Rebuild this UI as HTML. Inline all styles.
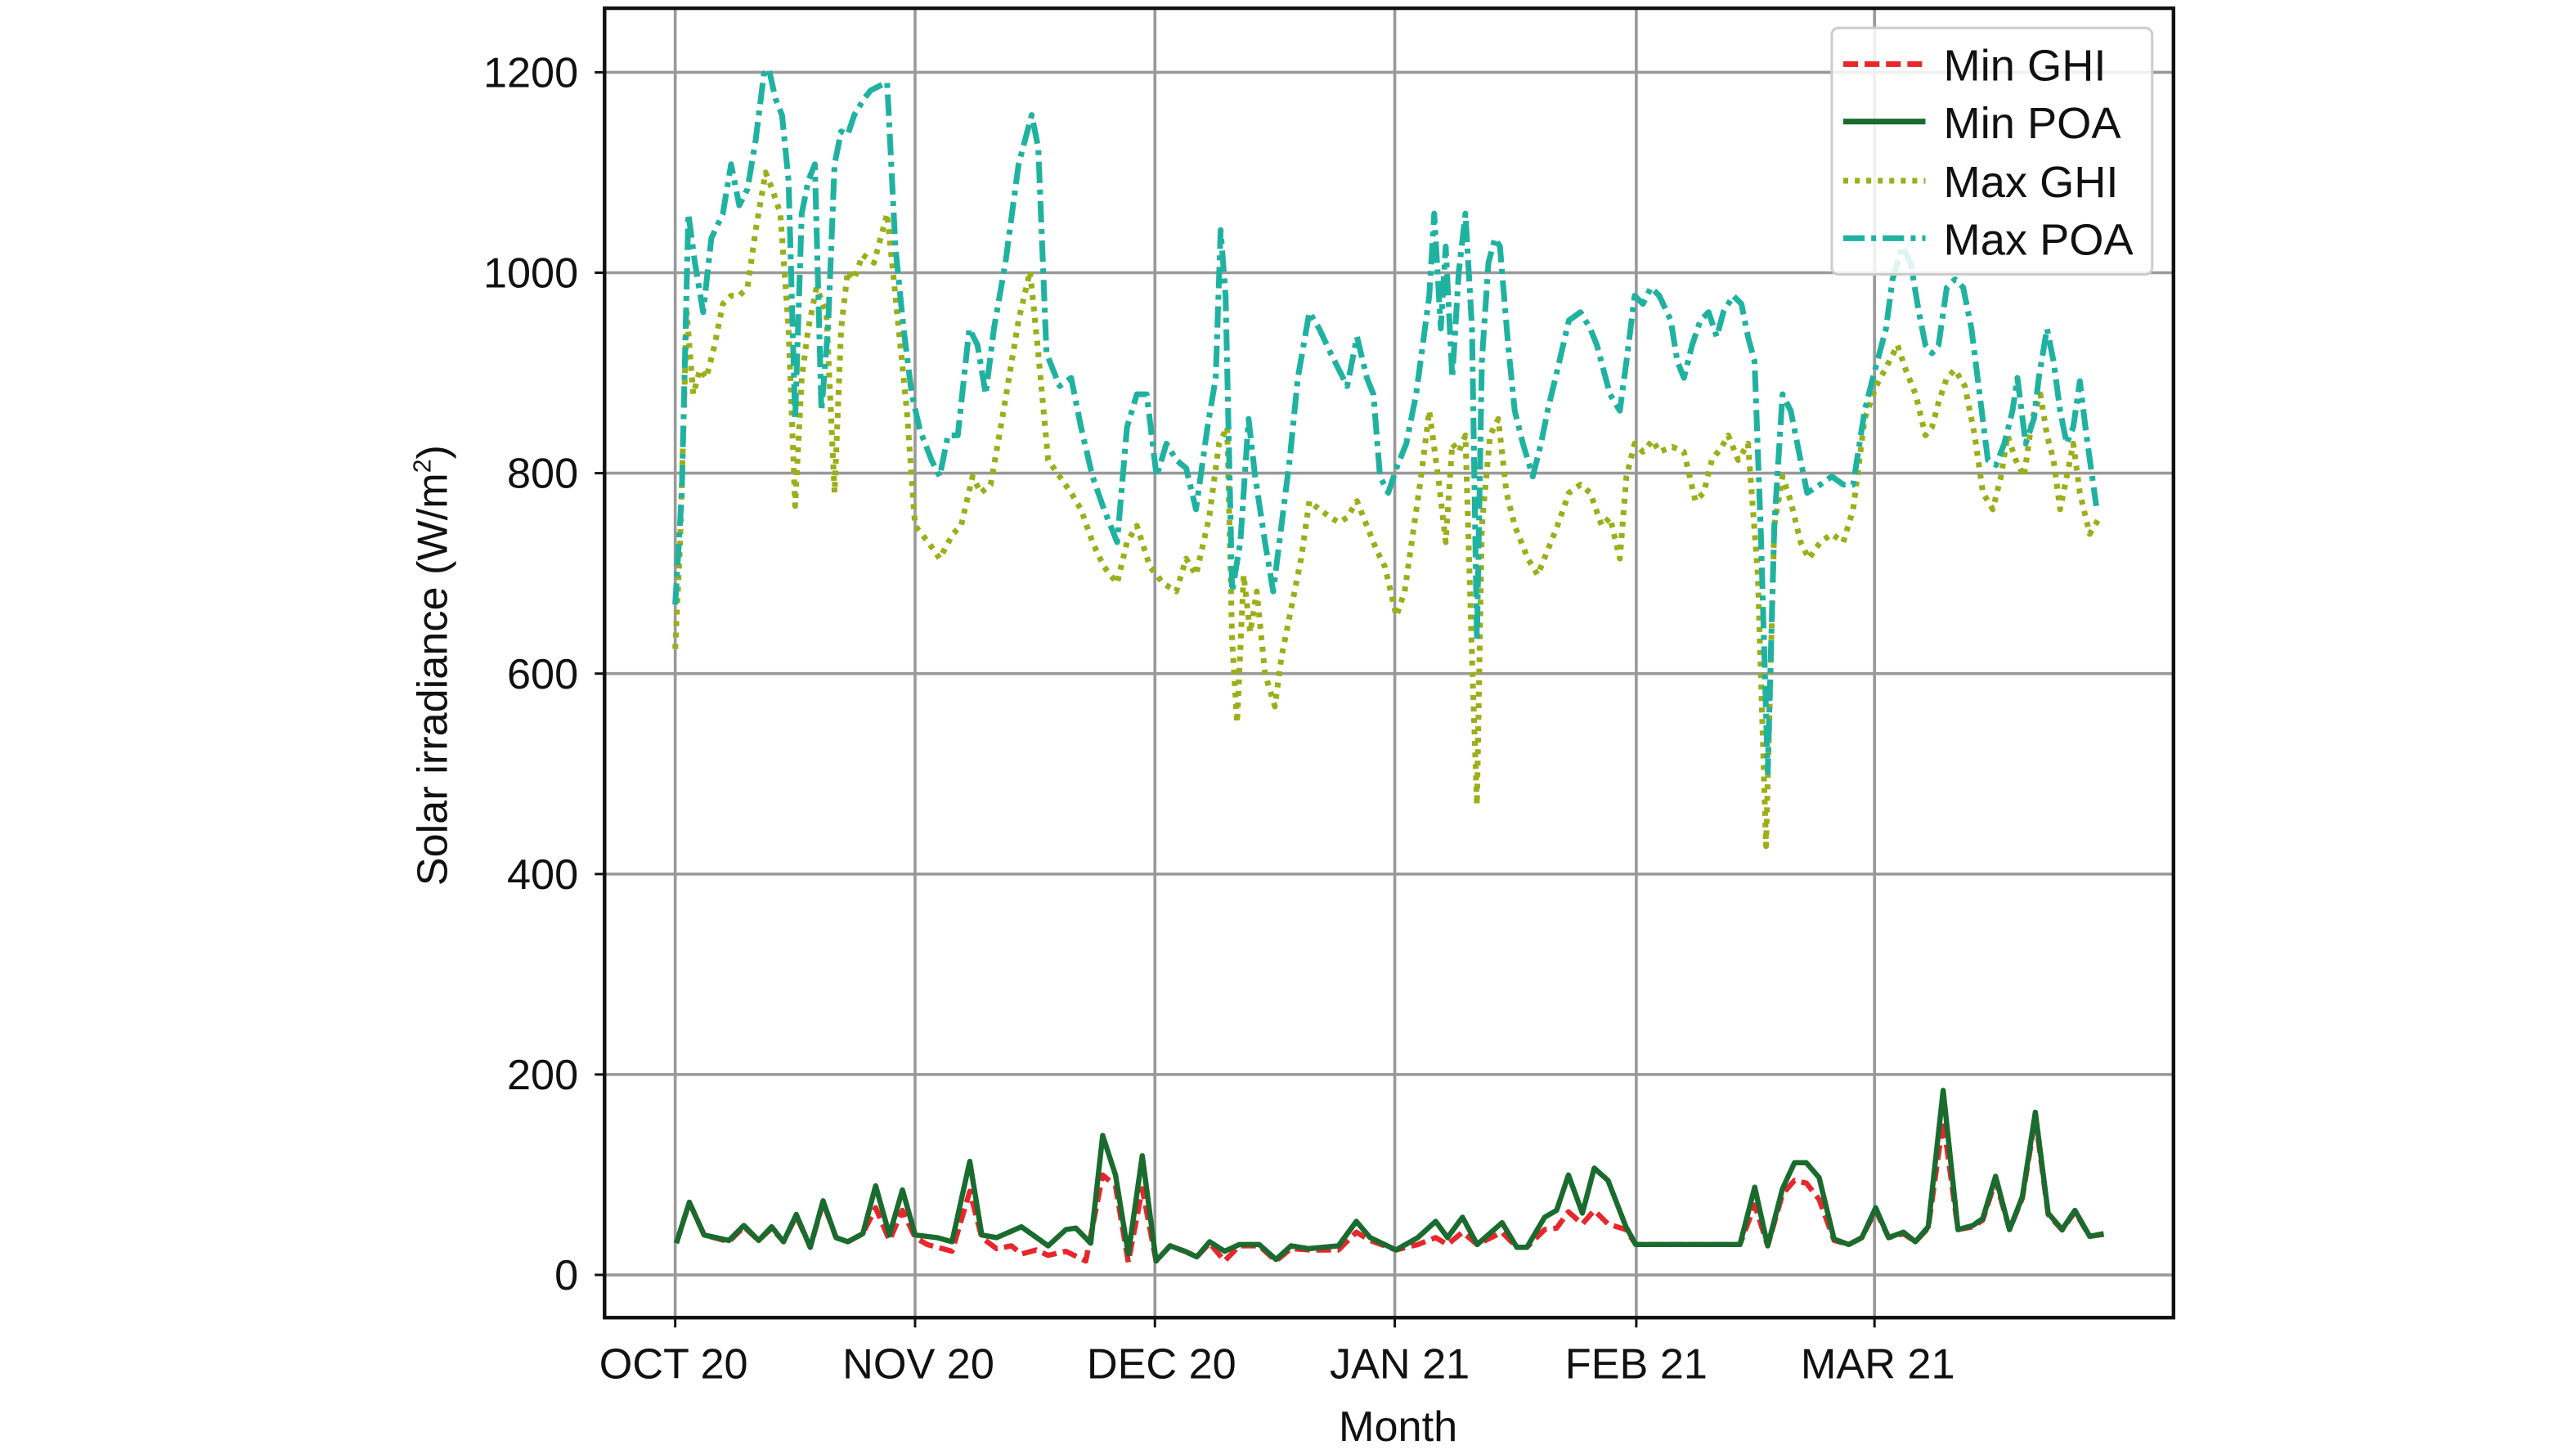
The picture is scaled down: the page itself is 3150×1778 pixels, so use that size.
<!DOCTYPE html>
<html><head><meta charset="utf-8"><style>
html,body{margin:0;padding:0;background:#fff;}
svg{display:block;}
text{font-family:"Liberation Sans",sans-serif;fill:#111;}
</style></head><body>
<svg id="s" width="3150" height="1778" viewBox="0 0 1568 885" preserveAspectRatio="none" xmlns="http://www.w3.org/2000/svg">
<rect width="1568" height="885" fill="#fff"/>
<g stroke="#999" stroke-width="1.8">
<line x1="411" y1="5" x2="411" y2="802"/><line x1="557" y1="5" x2="557" y2="802"/><line x1="703" y1="5" x2="703" y2="802"/><line x1="849" y1="5" x2="849" y2="802"/><line x1="996" y1="5" x2="996" y2="802"/><line x1="1141" y1="5" x2="1141" y2="802"/>
<line x1="368" y1="44" x2="1323" y2="44"/><line x1="368" y1="166" x2="1323" y2="166"/><line x1="368" y1="288" x2="1323" y2="288"/><line x1="368" y1="410" x2="1323" y2="410"/><line x1="368" y1="532" x2="1323" y2="532"/><line x1="368" y1="654" x2="1323" y2="654"/><line x1="368" y1="776" x2="1323" y2="776"/>
</g>
<g stroke="#111" stroke-width="1.5">
<line x1="362" y1="44" x2="368" y2="44"/><line x1="362" y1="166" x2="368" y2="166"/><line x1="362" y1="288" x2="368" y2="288"/><line x1="362" y1="410" x2="368" y2="410"/><line x1="362" y1="532" x2="368" y2="532"/><line x1="362" y1="654" x2="368" y2="654"/><line x1="362" y1="776" x2="368" y2="776"/>
<line x1="411" y1="802" x2="411" y2="808"/><line x1="557" y1="802" x2="557" y2="808"/><line x1="703" y1="802" x2="703" y2="808"/><line x1="849" y1="802" x2="849" y2="808"/><line x1="996" y1="802" x2="996" y2="808"/><line x1="1141" y1="802" x2="1141" y2="808"/>
</g>
<g id="series"></g>
<rect x="368" y="5" width="955" height="797" fill="none" stroke="#111" stroke-width="2.2"/>
<g font-size="26" text-anchor="end">
<text x="352" y="53">1200</text><text x="352" y="175">1000</text><text x="352" y="297">800</text><text x="352" y="419">600</text><text x="352" y="541">400</text><text x="352" y="663">200</text><text x="352" y="785">0</text>
</g>
<g font-size="26" text-anchor="middle">
<text x="410" y="839">OCT 20</text><text x="559" y="839">NOV 20</text><text x="707" y="839">DEC 20</text><text x="852" y="839">JAN 21</text><text x="996" y="839">FEB 21</text><text x="1143" y="839">MAR 21</text>
<text x="851" y="877">Month</text>
</g>
<text font-size="26" text-anchor="middle" transform="translate(272,405) rotate(-90)">Solar irradiance (W/m<tspan font-size="15" dy="-10">2</tspan><tspan dy="10">)</tspan></text>
<rect x="1115" y="17" width="195" height="150" rx="4" fill="#fff" fill-opacity="0.85" stroke="#ccc" stroke-width="1.5"/>
<g stroke-width="3.5" fill="none">
<line x1="1122" y1="39" x2="1172" y2="39" stroke="#e8262b" stroke-dasharray="9,4"/>
<line x1="1122" y1="74" x2="1172" y2="74" stroke="#1a6b2e"/>
<line x1="1122" y1="110" x2="1172" y2="110" stroke="#9aaf1a" stroke-dasharray="3,4"/>
<line x1="1122" y1="145" x2="1172" y2="145" stroke="#20b2a0" stroke-dasharray="13,4,3,4"/>
</g>
<g font-size="27">
<text x="1183" y="49">Min GHI</text><text x="1183" y="84">Min POA</text><text x="1183" y="120">Max GHI</text><text x="1183" y="155">Max POA</text>
</g>
</svg>
<script>
var poa=[[411,368],[415,300],[419,130],[423,160],[428,190],[433,145],[440,130],[445,100],[450,125],[455,115],[460,85],[465,45],[468,42],[472,60],[476,70],[480,110],[484,255],[488,130],[492,110],[496,100],[500,250],[504,200],[508,100],[512,80],[516,82],[520,70],[526,60],[530,55],[540,50],[545,150],[550,200],[555,240],[560,262],[567,280],[572,290],[577,265],[583,265],[590,200],[595,210],[600,240],[605,200],[612,160],[620,100],[628,70],[632,90],[637,215],[645,235],[652,230],[658,260],[665,290],[672,310],[680,330],[686,260],[692,240],[698,240],[704,290],[710,270],[716,280],[722,285],[728,310],[735,260],[740,230],[743,140],[746,180],[750,360],[755,330],[760,255],[764,290],[770,330],[775,360],[780,320],[785,280],[790,230],[797,190],[803,200],[810,215],[815,225],[820,235],[826,205],[832,230],[836,240],[840,290],[845,300],[850,285],[856,270],[862,240],[870,180],[873,130],[877,200],[880,150],[884,230],[888,165],[892,130],[896,200],[899,390],[902,220],[906,160],[910,145],[913,150],[918,210],[922,250],[927,270],[933,290],[938,270],[942,250],[948,225],[955,195],[962,190],[968,200],[972,210],[980,240],[986,250],[990,220],[995,180],[1000,185],[1005,175],[1010,180],[1017,195],[1021,220],[1025,230],[1030,210],[1035,195],[1040,190],[1045,205],[1049,190],[1055,180],[1060,185],[1064,205],[1068,220],[1072,330],[1076,470],[1080,320],[1085,240],[1090,250],[1096,280],[1100,300],[1108,295],[1115,290],[1122,295],[1128,295],[1135,250],[1140,230],[1148,200],[1152,170],[1158,150],[1163,160],[1168,190],[1172,210],[1176,215],[1180,210],[1185,175],[1190,170],[1195,175],[1200,200],[1205,240],[1210,280],[1215,283],[1220,270],[1225,250],[1228,230],[1233,270],[1238,255],[1241,230],[1246,200],[1250,220],[1254,250],[1258,270],[1262,260],[1266,232],[1270,265],[1276,308]];
var ghi=[[411,395],[414,330],[418,190],[422,240],[426,225],[430,230],[435,210],[440,185],[445,180],[450,180],[455,175],[460,140],[466,105],[470,115],[475,130],[480,200],[484,308],[488,230],[492,200],[497,175],[503,190],[508,300],[512,200],[516,165],[520,170],[525,155],[532,160],[540,130],[545,180],[552,250],[557,320],[565,330],[572,340],[580,325],[585,320],[592,290],[597,300],[603,295],[610,255],[620,195],[627,165],[632,215],[638,280],[645,290],[652,300],[658,310],[665,330],[672,345],[680,355],[686,330],[692,320],[700,345],[708,355],[716,360],[722,340],[728,350],[736,315],[742,270],[747,260],[750,390],[753,440],[757,350],[761,385],[765,360],[770,410],[776,430],[780,400],[786,370],[792,340],[797,305],[803,310],[810,315],[815,318],[820,315],[826,305],[832,320],[838,335],[843,345],[850,375],[855,360],[860,325],[865,290],[870,250],[876,295],[880,330],[884,270],[888,275],[892,265],[896,400],[899,490],[902,320],[907,265],[912,255],[917,300],[922,320],[930,340],[936,350],[942,335],[948,320],[955,300],[962,295],[968,300],[975,320],[980,315],[986,340],[990,290],[995,270],[1000,275],[1006,268],[1010,275],[1018,272],[1025,275],[1032,305],[1037,300],[1042,280],[1048,272],[1052,265],[1058,280],[1064,270],[1070,350],[1075,515],[1080,320],[1085,290],[1090,305],[1096,330],[1101,340],[1108,330],[1115,325],[1122,330],[1128,310],[1135,255],[1142,235],[1150,220],[1155,210],[1160,225],[1166,240],[1172,265],[1176,260],[1180,245],[1185,230],[1190,225],[1196,235],[1202,265],[1207,300],[1213,310],[1218,290],[1222,265],[1227,280],[1232,290],[1237,255],[1242,240],[1246,265],[1250,280],[1254,310],[1258,290],[1262,270],[1266,300],[1272,325],[1278,315]];
var mp=[[72,660],[85,510],[100,630],[125,650],[140,595],[155,650],[168,600],[180,655],[193,555],[207,675],[220,505],[233,640],[245,655],[260,625],[273,450],[287,630],[300,465],[313,630],[335,640],[350,655],[368,360],[380,630],[395,640],[420,600],[447,670],[465,610],[475,605],[490,660],[502,265],[515,410],[528,700],[542,340],[556,725],[570,670],[585,690],[597,710],[610,655],[625,690],[640,665],[660,665],[677,720],[692,670],[710,680],[740,670],[758,580],[772,640],[798,685],[820,640],[838,580],[850,640],[865,565],[880,665],[905,585],[920,675],[930,675],[948,565],[960,540],[972,410],[986,550],[998,385],[1012,430],[1030,600],[1040,665],[1145,665],[1160,455],[1173,670],[1188,460],[1200,365],[1212,365],[1225,420],[1240,645],[1255,665],[1268,640],[1282,530],[1295,640],[1310,620],[1322,655],[1335,600],[1350,100],[1365,610],[1380,595],[1390,570],[1403,415],[1417,610],[1430,490],[1443,180],[1456,550],[1470,610],[1483,540],[1498,635],[1512,625]];
var mg=[[72,660],[85,510],[100,630],[125,655],[140,600],[155,650],[168,605],[180,655],[193,560],[207,675],[220,510],[233,640],[245,655],[260,625],[273,530],[287,650],[300,540],[313,640],[325,665],[350,690],[368,470],[380,640],[395,680],[410,670],[420,700],[435,685],[447,705],[465,690],[485,725],[502,410],[515,450],[528,730],[542,460],[556,725],[570,670],[585,690],[597,710],[610,660],[625,725],[640,670],[660,670],[677,725],[692,680],[710,685],[740,685],[758,620],[772,650],[798,685],[820,665],[838,640],[850,665],[865,620],[880,665],[905,620],[920,675],[930,675],[948,610],[960,605],[972,545],[986,590],[998,540],[1012,590],[1030,610],[1040,665],[1145,665],[1160,520],[1173,670],[1188,480],[1200,430],[1212,440],[1225,500],[1240,650],[1255,665],[1268,640],[1282,540],[1295,640],[1310,625],[1322,655],[1335,605],[1350,210],[1365,610],[1380,600],[1390,575],[1403,430],[1417,610],[1430,495],[1443,200],[1456,555],[1470,612],[1483,545],[1498,635],[1512,628]];
function z(a){return a.map(function(p){return [368.3+p[0]*0.6033,647.1+p[1]*0.166];});}
function pl(a,c,d,w){return '<polyline fill="none" stroke-linejoin="round" stroke="'+c+'" stroke-width="'+w+'"'+(d?' stroke-dasharray="'+d+'"':'')+' points="'+a.map(function(p){return p[0].toFixed(1)+','+p[1].toFixed(1);}).join(' ')+'"/>';}
document.getElementById('series').innerHTML=
pl(ghi,'#9aaf1a','3,4',3.5)+pl(poa,'#20b2a0','13,4,3,4',3.5)+pl(z(mg),'#e8262b','9,4',3.2)+pl(z(mp),'#1a6b2e','',3.2);
</script>
</body></html>
